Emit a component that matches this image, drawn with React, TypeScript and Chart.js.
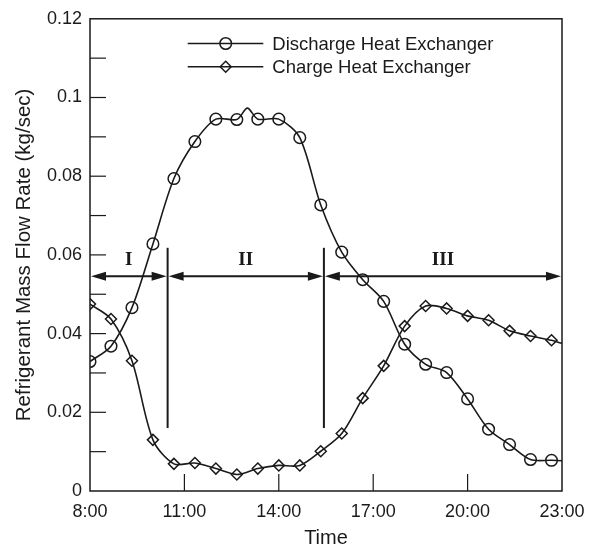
import { useEffect, useRef } from 'react';
import { Chart, registerables } from 'chart.js';

Chart.register(...registerables);

// ---- data ----
const dischargeTimes = ['8:00', '8:40', '9:20', '10:00', '10:40', '11:20', '12:00', '12:40', '13:00', '13:20', '14:00', '14:40', '15:20', '16:00', '16:40', '17:20', '18:00', '18:40', '19:20', '20:00', '20:40', '21:20', '22:00', '22:40', '23:00'];
const dischargeValues = [0.0329, 0.0368, 0.0466, 0.0628, 0.0794, 0.0888, 0.0945, 0.0944, 0.0973, 0.0945, 0.0945, 0.0898, 0.0727, 0.0607, 0.0537, 0.0482, 0.0373, 0.0322, 0.0301, 0.0234, 0.0157, 0.0118, 0.0080, 0.0078, 0.0077];
const dischargeUnmarked = ['13:00', '23:00'];

const chargeTimes = ['8:00', '8:40', '9:20', '10:00', '10:40', '11:20', '12:00', '12:40', '13:20', '14:00', '14:40', '15:20', '16:00', '16:40', '17:20', '18:00', '18:40', '19:20', '20:00', '20:40', '21:20', '22:00', '22:40', '23:00'];
const chargeValues = [0.0475, 0.0437, 0.0331, 0.0130, 0.0069, 0.0071, 0.0057, 0.0042, 0.0057, 0.0065, 0.0065, 0.0101, 0.0146, 0.0236, 0.0318, 0.0419, 0.0470, 0.0464, 0.0445, 0.0434, 0.0407, 0.0394, 0.0383, 0.0375];
const chargeUnmarked = ['23:00'];

const seriesLabels = ['Discharge Heat Exchanger', 'Charge Heat Exchanger'];

const xMin = '8:00';
const xMax = '23:00';
const xStepHours = 3;
const yMin = 0;
const yMax = 0.12;
const yStep = 0.01;

const zoneBounds = ['8:00', '10:28', '15:26', '23:00'];
const zoneLabels = ['I', 'II', 'III'];
const zoneArrowValue = 0.0546;
const zoneLabelValue = 0.0586;
const zoneLineTopValue = 0.0618;
const zoneLineBottomValue = 0.016;

const xTitle = 'Time';
const yTitle = 'Refrigerant Mass Flow Rate (kg/sec)';

// ---- helpers ----
const toHours = (t: string) => {
  const [h, m] = t.split(':').map(Number);
  return h + m / 60;
};
const fmtHour = (v: number) => `${Math.round(v)}:00`;

const SANS = '"Liberation Sans", Arial, sans-serif';
const SERIF = '"Liberation Serif", "Times New Roman", serif';
const INK = '#1a1a1a';

const overlayPlugin = {
  id: 'overlay',
  afterDatasetsDraw(chart: any) {
    const { ctx, chartArea: a, scales } = chart;
    const xs = scales.x;
    const ys = scales.y;
    ctx.save();
    ctx.strokeStyle = INK;
    ctx.fillStyle = INK;

    // frame
    ctx.lineWidth = 1.5;
    ctx.strokeRect(a.left, a.top, a.right - a.left, a.bottom - a.top);

    // inward ticks
    ctx.lineWidth = 1.2;
    ys.ticks.forEach((t: any) => {
      const y = ys.getPixelForValue(t.value);
      if (t.value <= yMin + 1e-9 || t.value >= yMax - 1e-9) return;
      ctx.beginPath();
      ctx.moveTo(a.left, y);
      ctx.lineTo(a.left + 16, y);
      ctx.stroke();
    });
    xs.ticks.forEach((t: any) => {
      const x = xs.getPixelForValue(t.value);
      if (t.value <= toHours(xMin) + 1e-9 || t.value >= toHours(xMax) - 1e-9) return;
      ctx.beginPath();
      ctx.moveTo(x, a.bottom);
      ctx.lineTo(x, a.bottom - 17);
      ctx.stroke();
    });

    // zones
    const bx = zoneBounds.map((b) => xs.getPixelForValue(toHours(b)));
    const ay = ys.getPixelForValue(zoneArrowValue);
    const ly = ys.getPixelForValue(zoneLabelValue);
    const vt = ys.getPixelForValue(zoneLineTopValue);
    const vb = ys.getPixelForValue(zoneLineBottomValue);
    ctx.lineWidth = 2;
    for (let i = 1; i < bx.length - 1; i++) {
      ctx.beginPath();
      ctx.moveTo(bx[i], vt);
      ctx.lineTo(bx[i], vb);
      ctx.stroke();
    }
    const head = (x: number, dir: number) => {
      ctx.beginPath();
      ctx.moveTo(x, ay);
      ctx.lineTo(x + dir * 15, ay - 4.5);
      ctx.lineTo(x + dir * 15, ay + 4.5);
      ctx.closePath();
      ctx.fill();
    };
    for (let i = 0; i < zoneLabels.length; i++) {
      const x0 = bx[i] + 1;
      const x1 = bx[i + 1] - 1;
      ctx.lineWidth = 2;
      ctx.beginPath();
      ctx.moveTo(x0 + 5, ay);
      ctx.lineTo(x1 - 5, ay);
      ctx.stroke();
      head(x0, 1);
      head(x1, -1);
      ctx.font = `bold 19px ${SERIF}`;
      ctx.textAlign = 'center';
      ctx.textBaseline = 'middle';
      ctx.fillText(zoneLabels[i], (bx[i] + bx[i + 1]) / 2, ly);
    }

    // legend
    const rows = [a.top + 24.7, a.top + 48];
    ctx.font = `18.5px ${SANS}`;
    ctx.textAlign = 'left';
    ctx.textBaseline = 'middle';
    rows.forEach((y, i) => {
      const lx0 = a.left + 97.7;
      const lx1 = a.left + 173.3;
      const mx = a.left + 135.7;
      ctx.lineWidth = 1.5;
      ctx.beginPath();
      ctx.moveTo(lx0, y);
      ctx.lineTo(lx1, y);
      ctx.stroke();
      ctx.beginPath();
      if (i === 0) {
        ctx.arc(mx, y, 5.8, 0, Math.PI * 2);
      } else {
        ctx.moveTo(mx, y - 5.5);
        ctx.lineTo(mx + 5.5, y);
        ctx.lineTo(mx, y + 5.5);
        ctx.lineTo(mx - 5.5, y);
        ctx.closePath();
      }
      ctx.stroke();
      ctx.fillText(seriesLabels[i], a.left + 182.3, y + 1);
    });
    ctx.restore();
  },
};

export default function App() {
  const ref = useRef<HTMLCanvasElement | null>(null);

  useEffect(() => {
    if (!ref.current) return;
    const mk = (times: string[], vals: number[]) =>
      times.map((t, i) => ({ x: toHours(t), y: vals[i] }));
    const radii = (times: string[], un: string[], r: number) =>
      times.map((t) => (un.includes(t) ? 0 : r));

    const chart = new Chart(ref.current, {
      type: 'line',
      data: {
        datasets: [
          {
            label: seriesLabels[0],
            data: mk(dischargeTimes, dischargeValues),
            borderColor: INK,
            borderWidth: 1.6,
            backgroundColor: 'rgba(0,0,0,0)',
            pointStyle: 'circle',
            pointRadius: radii(dischargeTimes, dischargeUnmarked, 5.8),
            pointBorderColor: INK,
            pointBorderWidth: 1.5,
            pointBackgroundColor: 'rgba(0,0,0,0)',
            tension: 0.3,
            fill: false,
          },
          {
            label: seriesLabels[1],
            data: mk(chargeTimes, chargeValues),
            borderColor: INK,
            borderWidth: 1.6,
            backgroundColor: 'rgba(0,0,0,0)',
            pointStyle: 'rectRot',
            pointRadius: radii(chargeTimes, chargeUnmarked, 5.5),
            pointBorderColor: INK,
            pointBorderWidth: 1.5,
            pointBackgroundColor: 'rgba(0,0,0,0)',
            tension: 0.3,
            fill: false,
          },
        ],
      },
      options: {
        animation: false,
        responsive: false,
        devicePixelRatio: 1,
        layout: { padding: { left: 0, top: 17, right: 37, bottom: 0 } },
        plugins: {
          legend: { display: false },
          tooltip: { enabled: false },
        },
        scales: {
          x: {
            type: 'linear',
            min: toHours(xMin),
            max: toHours(xMax),
            ticks: {
              stepSize: xStepHours,
              color: INK,
              font: { family: SANS, size: 18 },
              padding: 10,
              maxRotation: 0,
              callback: (v: any) => fmtHour(Number(v)),
            },
            grid: { display: false, drawTicks: false },
            border: { display: false },
            title: {
              display: true,
              text: xTitle,
              color: INK,
              font: { family: SANS, size: 20 },
              padding: { top: 0, bottom: 0 },
            },
            afterFit: (s: any) => {
              s.height = 59;
            },
          },
          y: {
            type: 'linear',
            min: yMin,
            max: yMax,
            ticks: {
              stepSize: yStep,
              color: INK,
              font: { family: SANS, size: 18 },
              padding: 8,
              autoSkip: false,
              callback: (v: any) => {
                const n = Math.round(Number(v) * 100);
                if (n % 2 !== 0) return '';
                return n === 0 ? '0' : String(n / 100);
              },
            },
            grid: { display: false, drawTicks: false },
            border: { display: false },
            title: {
              display: true,
              text: yTitle,
              color: INK,
              font: { family: SANS, size: 20.5 },
              padding: { top: 12, bottom: 0 },
            },
            afterFit: (s: any) => {
              s.width = 90;
            },
          },
        },
      },
      plugins: [overlayPlugin],
    });
    return () => chart.destroy();
  }, []);

  return (
    <div style={{ position: 'absolute', left: 0, top: 0, width: 599, height: 550, background: '#fff' }}>
      <canvas ref={ref} width={599} height={550} />
    </div>
  );
}
